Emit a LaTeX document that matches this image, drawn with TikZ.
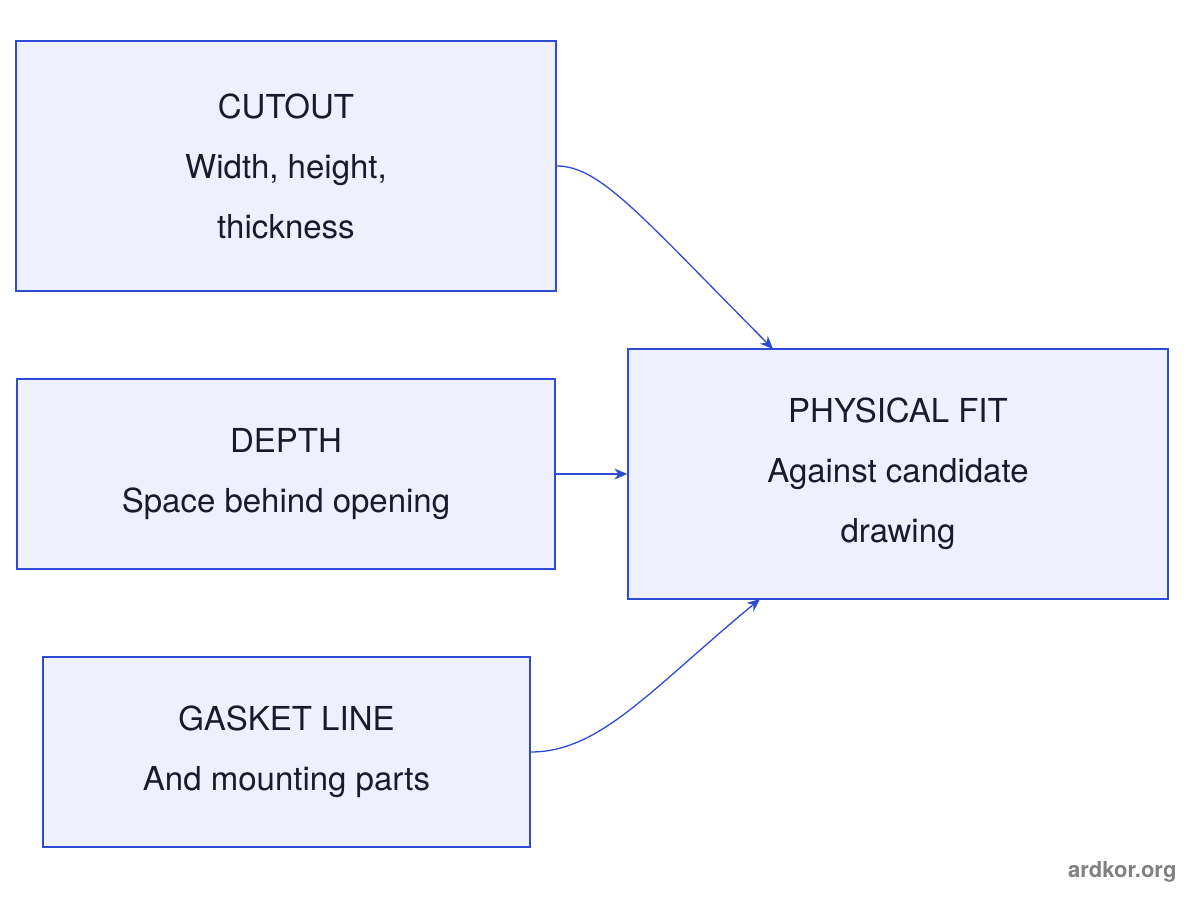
\documentclass[tikz,border=0pt]{standalone}
\usepackage{fontspec}
\setmainfont{TeX Gyre Heros}
\usetikzlibrary{arrows.meta}
\definecolor{bfill}{HTML}{EEF0FD}
\definecolor{bline}{HTML}{2E4BD6}
\definecolor{txt}{HTML}{1A1A2E}
\begin{document}
\begin{tikzpicture}[x=1pt,y=-1pt,
  box/.style={draw=bline,fill=bfill,line width=1.3pt,text=txt,align=center,
    font=\fontsize{33}{60}\selectfont,inner sep=0pt},
  conn/.style={draw=bline,line width=1.3pt,-{Stealth[length=13pt,width=11pt]}}]
\useasboundingbox (0,0) rectangle (1200,900);
\node[box,minimum width=540pt,minimum height=250pt] (cut) at (286,166) {CUTOUT\\Width, height,\\thickness};
\node[box,minimum width=538pt,minimum height=190pt] (dep) at (286,474) {DEPTH\\Space behind opening};
\node[box,minimum width=487pt,minimum height=190pt] (gas) at (286.5,752) {GASKET LINE\\And mounting parts};
\node[box,minimum width=540pt,minimum height=250pt] (fit) at (898,474) {PHYSICAL FIT\\Against candidate\\drawing};
\coordinate (f1) at (773,349);
\coordinate (f3) at (760,599);
\draw[conn] (cut.east) .. controls (600,166) and (640,215) .. (f1);
\draw[conn] (dep.east) -- (fit.west);
\draw[conn] (gas.east) .. controls (600,752) and (650,690) .. (f3);
\node[text=gray,font=\bfseries\fontsize{22}{26}\selectfont,anchor=east] (wm) at (1180,872) {ardkor.org};
\end{tikzpicture}
\end{document}
